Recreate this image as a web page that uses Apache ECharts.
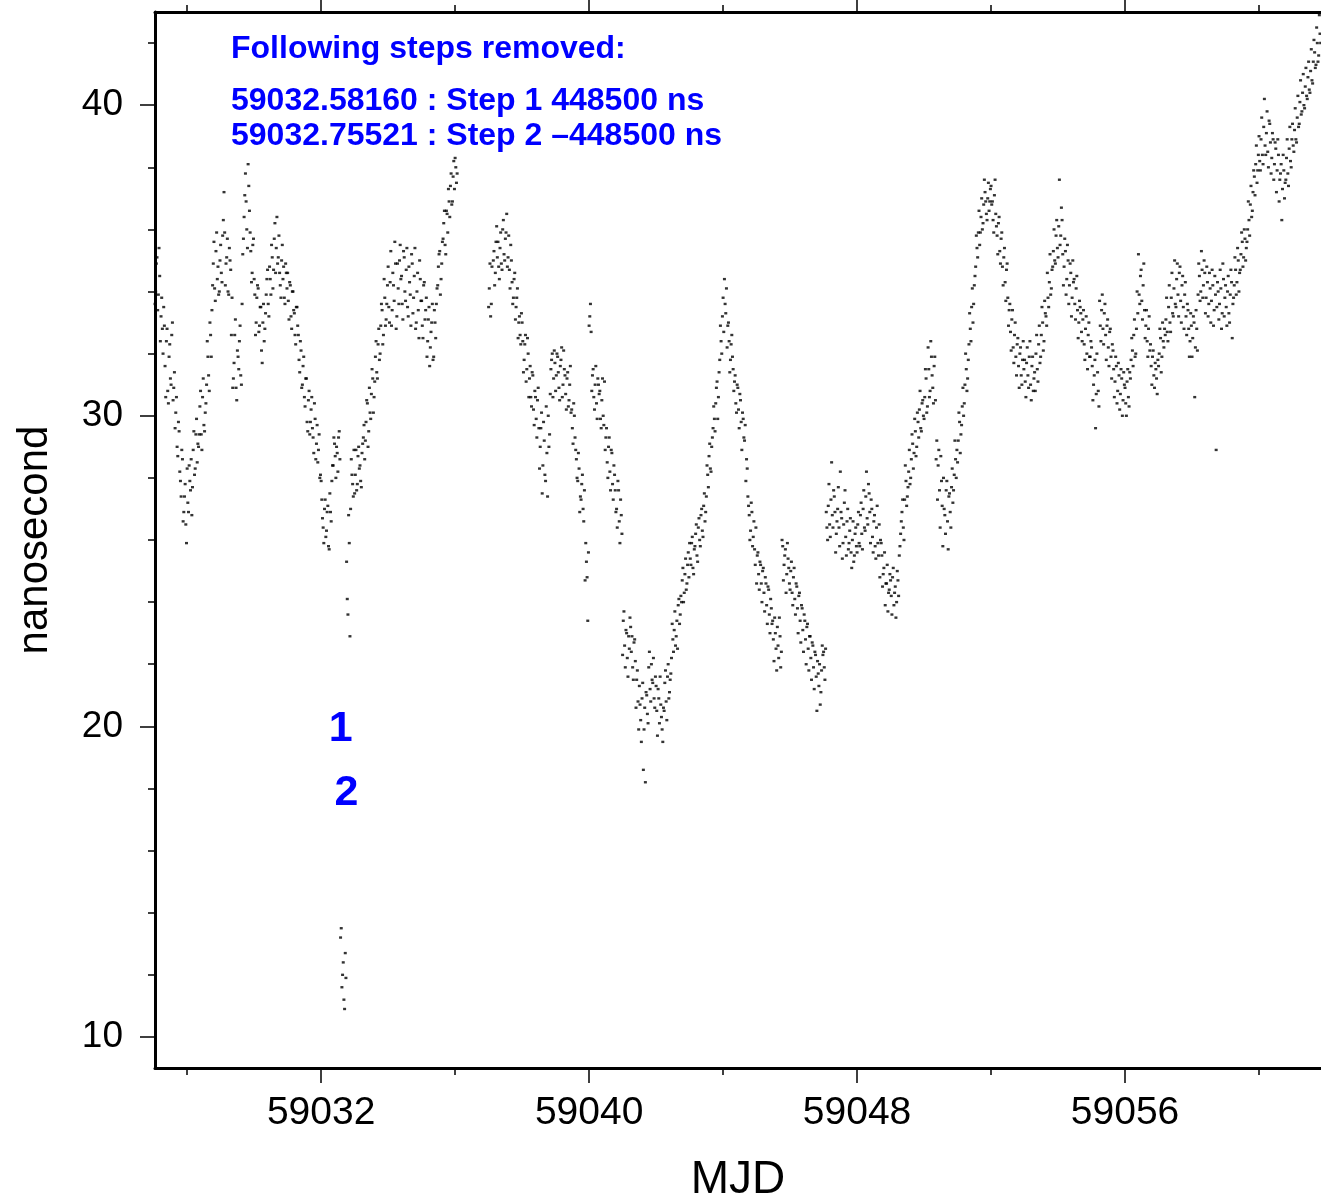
<!DOCTYPE html>
<html><head><meta charset="utf-8">
<script src="https://cdn.jsdelivr.net/npm/echarts@6/dist/echarts.min.js"></script>
<style>html,body{margin:0;padding:0;background:#fff}#c{width:1321px;height:1199px}</style>
</head><body><div id="c"></div>
<script>
// ---- axis ticks ----
const xMajorTicks = [59032, 59040, 59048, 59056];
const xMinorTicks = [59028, 59036, 59044, 59052, 59060];
const yMajorTicks = [10, 20, 30, 40];
const yMinorTicks = [12, 14, 16, 18, 22, 24, 26, 28, 32, 34, 36, 38, 42];

// ---- sampling within each day (MJD fraction), two interleaved sets ----
const offsetsA = [0.02,0.06,0.10,0.14,0.18,0.22,0.26,0.30,0.34,0.38,0.42,0.46,0.50,0.54,0.58,0.62,0.66,0.70,0.74,0.78,0.82,0.86,0.90,0.94,0.98];
const offsetsB = [0.00,0.04,0.08,0.12,0.16,0.20,0.24,0.28,0.32,0.36,0.40,0.44,0.48,0.52,0.56,0.60,0.64,0.68,0.72,0.76,0.80,0.84,0.88,0.92,0.96];

// ---- nanosecond values, set A, one row per MJD day ----
const a59027 = [34.6,34.0,35.1,33.9,34.5,33.2,32.8,33.5,31.6,32.4,30.8,31.9,31.2,32.6,30.5,31.4,30.1,29.0,29.8,28.2,27.4,28.6,26.9,27.8,25.9];
const a59028 = [27.2,28.4,27.6,26.8,28.9,28.1,29.4,28.5,29.0,30.3,29.4,30.6,29.7,30.1,31.0,31.9,30.8,32.6,33.4,34.9,34.1,35.3,34.4,33.9,35.0];
const a59029 = [34.6,35.8,37.2,34.2,35.1,34.0,35.4,34.7,33.8,31.2,32.6,30.9,32.1,31.5,32.9,31.0,35.2,36.4,37.8,36.0,38.1,36.6,35.3,34.6,35.7];
const a59030 = [33.9,33.0,34.2,32.7,33.5,32.1,33.0,32.4,33.3,34.4,33.6,34.8,33.9,35.1,34.7,36.2,35.4,34.9,35.8,34.2,35.0,34.4,33.8,34.9,34.1];
const a59031 = [33.7,34.3,33.2,34.0,33.4,32.6,33.5,32.9,31.8,32.4,30.9,31.6,30.6,31.2,29.8,30.5,29.4,30.2,29.6,28.8,29.9,29.1,28.5,29.4,28.1];
const a59032 = [27.3,26.4,27.0,26.1,26.9,25.8,27.5,26.6,28.4,29.3,28.7,29.0,28.2,29.5,13.2,11.6,12.4,10.9,11.9,24.1,26.8,22.9,28.6,27.8,28.9];
const a59033 = [28.1,27.6,28.7,28.3,27.9,28.8,29.3,28.6,29.8,30.4,29.5,30.1,30.7,31.2,30.6,31.9,31.4,32.3,31.8,32.9,33.4,32.6,33.8,33.1,34.2];
const a59034 = [33.5,34.3,32.9,34.6,33.7,34.9,33.2,34.1,35.0,34.4,33.6,35.3,34.0,34.7,33.5,34.8,33.9,35.2,33.3,34.5,32.8,34.0,33.4,35.0,33.7];
const a59035 = [32.9,34.2,33.1,33.8,32.4,33.5,32.2,33.0,31.8,33.4,32.5,34.1,34.8,35.3,34.4,35.6,36.2,35.5,36.6,35.9,36.9,37.4,36.8,37.7,37.3];
const a59036 = [38.0,37.8,null,null,null,null,null,null,null,null,null,null,null,null,null,null,null,null,null,null,null,null,null,null,null];
const a59037 = [34.1,33.2,34.8,35.0,34.2,35.6,35.1,34.8,35.4,34.9,36.0,35.2,35.7,36.5,35.1,34.7,35.5,34.3,33.8,34.6,33.5,34.1,33.0,32.6,33.3];
const a59038 = [32.4,31.8,32.6,31.5,32.0,31.2,30.6,31.4,30.2,30.8,29.9,30.5,29.6,29.0,30.1,28.4,29.2,27.9,28.8,30.0,29.4,31.5,32.0,31.2,31.7];
const a59039 = [31.3,31.9,30.9,31.6,32.2,31.0,31.5,30.7,31.2,30.3,31.0,30.1,29.6,30.4,29.3,28.6,27.9,28.3,27.4,27.8,27.0,27.6,25.9,24.8,25.6];
const a59040 = [33.2,32.7,31.3,30.6,31.0,30.4,31.2,30.7,29.9,30.5,30.0,31.1,29.3,28.5,29.0,28.2,28.9,27.8,28.4,27.6,27.0,27.9,26.6,27.3,26.2];
const a59041 = [23.4,22.6,23.1,22.2,22.9,23.5,22.4,21.9,22.7,22.1,21.5,20.8,21.3,20.2,20.9,18.6,20.6,21.1,20.4,21.9,21.2,22.0,21.4,20.9,21.6];
const a59042 = [20.5,21.2,20.1,20.7,19.9,20.6,21.4,20.8,21.6,20.9,21.5,22.2,22.8,23.1,22.6,23.4,23.9,23.3,24.2,24.7,24.0,24.9,24.4,25.2,24.8];
const a59043 = [25.4,25.9,25.1,25.7,26.2,25.5,26.4,26.0,26.8,26.3,27.1,26.6,27.4,28.1,28.7,28.3,29.0,29.6,29.9,30.4,31.1,30.6,31.8,32.4,33.2];
const a59044 = [32.7,33.6,34.1,32.9,32.4,31.8,32.6,31.5,31.1,30.4,31.0,30.2,30.7,29.8,30.1,29.3,29.7,28.6,27.4,26.8,26.3,26.9,26.1,25.7,26.4];
const a59045 = [25.5,24.9,25.3,24.6,25.0,24.3,24.8,23.9,24.5,23.6,24.1,23.3,22.8,23.5,22.5,23.2,22.2,22.9,22.4,25.8,25.2,25.7,24.9,25.4,24.6];
const a59046 = [25.0,24.3,24.8,24.1,24.6,23.8,24.2,23.4,23.9,23.1,23.6,22.8,23.2,22.5,22.9,22.2,22.7,21.9,22.4,21.6,22.1,21.3,20.7,21.8,22.3];
const a59047 = [21.9,22.5,26.4,27.1,26.5,27.3,26.8,27.6,26.9,26.2,27.0,26.4,28.2,26.7,25.9,27.2,26.1,26.6,25.7,26.3,25.6,26.0,25.3,26.2,25.8];
const a59048 = [26.5,25.9,26.8,26.2,27.0,26.4,27.4,26.7,27.8,26.9,27.3,26.1,26.6,25.8,26.4,25.9,26.5,26.0,25.5,24.9,25.6,24.6,25.2,24.3,24.9];
const a59049 = [24.2,24.8,23.9,24.5,24.0,24.7,25.5,26.2,26.9,26.4,27.3,27.9,27.4,28.2,27.8,28.6,29.1,28.8,29.5,29.0,29.8,30.2,29.6,30.4,30.0];
const a59050 = [30.6,31.2,30.3,31.5,30.8,31.9,30.9,31.6,30.5,29.2,28.4,27.6,28.7,27.1,28.0,26.8,27.6,26.6,27.4,26.9,27.7,27.2,28.1,28.6,28.9];
const a59051 = [29.2,29.8,29.4,30.3,30.0,31.0,31.5,31.2,32.3,32.8,33.5,33.0,34.2,34.8,35.4,35.9,35.5,36.4,36.0,36.8,37.2,36.5,37.0,36.6,37.3];
const a59052 = [36.8,36.3,37.1,36.5,35.8,36.2,35.3,35.7,34.8,35.1,34.3,34.7,33.8,33.4,32.7,33.1,32.2,32.6,31.9,32.3,31.6,32.0,31.3,31.8,31.5];
const a59053 = [31.1,31.7,31.3,31.9,31.0,31.6,30.8,31.4,32.0,31.5,32.3,31.7,32.6,33.0,32.4,33.3,32.9,33.8,34.3,33.9,34.7,35.3,35.0,35.8,35.4];
const a59054 = [36.1,35.5,36.7,35.2,34.8,35.3,34.4,35.0,34.2,34.6,33.8,34.3,33.6,34.1,33.4,33.0,33.5,32.7,33.1,32.3,32.8,32.0,32.6,31.9,32.4];
const a59055 = [31.6,31.0,31.8,30.7,31.4,30.3,32.9,33.4,32.8,33.3,32.6,32.9,32.2,32.7,31.9,32.3,31.5,31.1,31.6,30.8,31.3,30.7,31.2,30.5,31.0];
const a59056 = [30.4,31.1,30.6,31.4,31.8,32.1,32.6,31.9,32.8,33.3,33.9,34.5,33.7,34.2,33.4,32.9,32.4,32.8,32.1,31.6,31.9,31.3,31.7,31.2,31.8];
const a59057 = [32.0,32.5,31.9,32.4,32.8,33.1,32.7,33.5,33.0,33.8,33.3,34.1,33.6,34.4,33.9,34.6,33.7,34.2,33.5,33.9,33.2,33.6,32.8,32.4,32.9];
const a59058 = [32.5,33.0,32.2,32.8,33.9,34.5,34.0,34.7,34.2,34.6,33.8,34.3,33.6,34.1,33.7,34.2,33.4,33.9,33.5,34.0,33.6,34.1,33.3,34.4,33.8];
const a59059 = [33.5,34.0,33.3,33.9,34.3,33.6,34.2,34.7,34.3,35.0,34.6,35.2,35.6,35.1,35.7,35.4,36.0,36.3,36.8,36.4,37.2,37.7,38.1,37.5,38.4];
const a59060 = [38.2,38.9,38.4,39.3,38.7,39.1,38.5,39.5,38.8,38.3,38.9,38.1,38.6,37.9,38.4,37.6,38.1,37.3,37.9,37.5,38.3,37.8,38.6,38.2,38.9];
const a59061 = [38.7,39.2,38.9,39.6,39.3,40.1,39.7,40.4,40.0,40.6,40.3,40.9,40.5,41.1,40.8,41.4,41.7,41.3,42.0,41.6,42.3,42.6,42.2,42.8,42.5];

// ---- set B (interleaved samples), one row per MJD day ----
const b59027 = [35.2,33.6,34.9,33.4,35.4,32.4,33.8,32.0,32.9,30.6,32.8,30.4,32.3,31.0,33.0,30.9,29.6,30.6,28.7,29.5,27.9,28.9,26.6,27.4,26.5];
const b59028 = [28.3,26.9,27.9,28.6,27.7,29.5,28.3,29.9,29.1,29.4,30.8,28.9,31.2,29.5,30.4,32.4,31.3,33.0,31.9,34.2,35.6,33.7,35.9,34.8,34.0];
const b59029 = [35.5,34.3,36.3,35.9,34.9,35.7,33.9,35.0,32.6,30.9,31.7,33.1,30.5,31.9,32.4,31.3,33.6,35.7,37.1,36.9,35.4,37.4,35.9,34.3,35.5];
const b59030 = [34.4,32.6,33.8,34.1,32.9,33.5,31.7,33.6,32.8,33.9,34.7,33.2,34.4,35.5,34.1,35.7,34.6,36.4,35.1,34.6,33.8,35.5,34.8,33.6,34.6];
const b59031 = [34.6,33.1,34.2,32.8,34.0,33.3,32.3,33.5,32.6,31.4,32.1,31.0,31.9,30.3,31.2,29.5,30.8,29.8,30.6,29.3,30.4,28.6,29.7,28.9,28.0];
const b59032 = [27.9,26.7,25.9,27.3,26.3,27.1,25.7,26.9,27.9,28.4,29.1,28.0,28.8,29.3,28.6,13.5,12.0,11.2,12.7,25.3,23.6,25.9,27.0,28.1,27.4];
const b59033 = [27.5,28.9,27.8,29.0,28.4,27.7,29.1,29.7,29.2,30.5,29.0,30.9,29.9,31.5,30.1,31.1,32.4,31.2,32.8,32.0,33.6,32.3,34.4,32.9,33.6];
const b59034 = [34.8,33.0,35.3,33.4,34.2,35.6,32.8,34.9,33.6,35.5,34.5,33.1,35.1,33.7,35.4,33.2,34.3,32.9,34.9,33.8,35.4,33.0,34.6,32.5,34.4];
const b59035 = [33.7,32.5,34.3,33.4,31.9,33.1,31.6,32.7,33.6,31.9,33.0,33.6,34.2,35.2,33.9,34.9,35.7,36.6,35.2,36.5,37.3,36.4,37.8,36.9,38.2];
const b59036 = [38.3,37.5,null,null,null,null,null,null,null,null,null,null,null,null,null,null,null,null,null,null,null,null,null,null,null];
const b59037 = [33.5,34.9,33.6,null,35.3,34.6,36.1,35.6,34.4,35.9,34.7,36.3,35.0,35.9,34.8,35.8,34.1,35.0,33.6,34.4,33.1,33.8,32.5,33.2,32.3];
const b59038 = [33.0,31.4,32.3,31.1,32.5,30.6,31.6,30.3,31.3,29.7,30.6,29.3,30.9,28.3,29.6,27.5,29.8,28.1,30.3,27.4,29.0,30.7,31.8,30.6,32.1];
const b59039 = [30.8,32.0,31.4,30.5,31.8,30.6,32.1,31.3,30.2,31.4,30.5,31.6,30.2,29.1,30.0,28.9,28.0,28.8,26.9,27.3,28.1,26.6,24.7,25.3,23.4];
const b59040 = [32.9,33.6,30.8,31.5,30.2,31.6,29.9,31.0,30.8,29.6,31.2,29.7,28.9,29.6,28.0,29.3,27.6,28.8,27.3,28.1,26.9,26.4,27.6,25.9,26.8];
const b59041 = [22.3,23.7,21.9,23.0,21.6,22.5,23.2,22.9,21.5,22.8,20.6,21.8,19.9,20.7,19.5,21.4,19.9,18.2,21.0,20.1,22.4,20.8,21.5,22.2,20.6];
const b59042 = [21.3,19.7,20.9,21.6,20.3,19.5,20.5,21.8,20.2,22.0,21.1,21.7,23.3,22.4,23.7,22.9,22.5,24.1,23.6,24.0,25.1,24.3,25.4,24.6,25.6];
const b59043 = [25.9,25.2,26.1,24.9,25.8,26.5,25.3,26.7,25.8,27.0,26.1,27.5,26.9,28.4,27.7,29.1,28.2,29.3,30.3,29.5,30.9,29.9,31.4,32.9,32.0];
const b59044 = [33.8,34.4,33.3,32.2,33.0,31.4,32.3,31.9,30.8,31.3,30.1,30.9,29.6,30.5,28.9,29.9,29.2,27.9,28.3,27.1,26.0,27.2,25.8,26.6,25.2];
const b59045 = [24.6,25.6,24.4,25.2,24.0,25.1,23.7,24.6,23.3,24.4,23.0,23.8,23.4,22.1,23.0,21.8,22.6,23.5,21.9,26.0,24.7,25.5,24.3,25.9,25.1];
const b59046 = [24.4,25.3,23.9,25.1,23.6,24.5,23.0,24.3,22.7,23.8,22.4,23.4,22.0,23.3,21.8,22.9,21.5,22.6,21.2,22.3,20.5,21.7,22.0,21.1,22.6];
const b59047 = [22.4,21.5,26.9,26.0,27.8,26.1,28.5,26.4,27.4,25.6,26.6,27.7,25.8,26.9,25.4,26.5,27.6,25.5,27.0,25.9,26.7,25.1,26.6,25.5,26.4];
const b59048 = [25.6,26.9,25.8,27.2,25.7,27.6,26.3,28.2,26.5,27.5,25.9,27.0,25.6,26.8,25.4,27.1,25.5,24.8,25.9,24.5,25.1,23.9,24.6,23.7,24.4];
const b59049 = [24.7,23.6,25.1,24.3,23.5,25.0,24.2,25.8,26.6,27.3,26.0,28.4,27.1,27.7,28.9,28.0,29.4,28.3,29.9,28.7,30.1,29.3,30.8,29.5,30.5];
const b59050 = [29.9,31.5,30.1,32.2,30.6,32.4,31.3,30.4,31.9,28.6,27.3,28.9,26.4,27.9,25.8,27.0,26.2,27.9,25.7,27.5,26.4,28.3,27.6,29.2,28.0];
const b59051 = [28.5,30.1,28.8,29.7,30.9,30.4,32.0,30.8,31.8,33.3,32.4,34.1,33.6,34.5,35.8,35.1,36.6,35.9,37.0,36.2,37.6,36.9,36.3,37.5,36.9];
const b59052 = [37.4,36.9,35.9,37.6,36.1,35.2,36.4,34.9,35.9,34.2,35.4,33.7,34.9,32.9,33.6,32.1,33.4,31.7,33.0,31.3,32.5,30.9,32.2,31.0,32.4];
const b59053 = [31.8,30.6,32.2,30.9,32.4,30.5,31.9,31.2,30.8,32.6,31.1,32.9,31.9,33.5,32.1,33.7,33.2,34.6,33.5,35.2,34.1,34.8,36.0,34.9,36.3];
const b59054 = [35.1,37.6,35.8,36.3,34.2,35.7,33.9,35.5,33.6,34.9,33.2,35.0,34.4,33.1,34.5,32.5,33.7,33.3,32.4,33.4,31.8,33.2,31.5,33.0,31.9];
const b59055 = [32.2,30.5,31.3,29.6,32.0,30.8,33.7,32.4,33.9,32.3,33.6,31.8,33.1,31.6,32.8,31.2,32.1,30.6,31.9,30.4,31.7,30.2,31.5,30.0,31.4];
const b59056 = [30.9,30.0,31.5,30.3,31.2,32.5,31.6,33.1,32.0,34.0,35.2,33.6,34.7,33.1,34.9,32.5,33.4,31.9,33.2,32.3,31.0,32.1,30.9,31.5,30.7];
const b59057 = [31.6,32.8,31.4,33.0,32.2,32.6,33.8,32.4,34.2,32.7,34.6,33.2,35.0,33.5,34.9,33.2,34.8,33.0,34.5,32.8,34.3,32.6,33.4,31.9,33.3];
const b59058 = [31.9,33.2,30.6,33.4,32.1,34.9,33.7,35.3,33.8,35.0,33.3,34.8,33.2,34.6,33.0,34.7,32.9,34.5,28.9,34.3,33.1,34.7,32.8,34.9,33.2];
const b59059 = [34.2,32.9,34.5,33.0,34.7,32.5,33.8,35.1,33.9,35.4,34.0,34.7,35.9,34.8,36.0,35.0,35.6,36.9,35.8,37.4,36.6,37.9,37.1,38.7,37.9];
const b59060 = [39.0,37.9,39.6,38.1,40.2,38.4,39.8,38.0,39.4,37.8,39.1,37.6,38.8,37.2,38.9,36.9,37.8,36.3,38.4,37.0,37.6,38.9,37.4,39.3,38.0];
const b59061 = [39.4,38.5,39.9,38.8,40.3,39.4,40.8,39.8,41.0,39.9,41.2,40.2,41.4,40.4,41.8,40.7,42.1,41.2,42.5,41.4,42.9,42.0,42.6,42.3,43.0];

const days = [59027,59028,59029,59030,59031,59032,59033,59034,59035,59036,59037,59038,59039,59040,59041,59042,59043,59044,59045,59046,59047,59048,59049,59050,59051,59052,59053,59054,59055,59056,59057,59058,59059,59060,59061];
const rowsA = [a59027,a59028,a59029,a59030,a59031,a59032,a59033,a59034,a59035,a59036,a59037,a59038,a59039,a59040,a59041,a59042,a59043,a59044,a59045,a59046,a59047,a59048,a59049,a59050,a59051,a59052,a59053,a59054,a59055,a59056,a59057,a59058,a59059,a59060,a59061];
const rowsB = [b59027,b59028,b59029,b59030,b59031,b59032,b59033,b59034,b59035,b59036,b59037,b59038,b59039,b59040,b59041,b59042,b59043,b59044,b59045,b59046,b59047,b59048,b59049,b59050,b59051,b59052,b59053,b59054,b59055,b59056,b59057,b59058,b59059,b59060,b59061];

// ---- step annotations ----
const stepMJD = [59032.58160, 59032.75521];
const stepNames = ['1', '2'];
const stepLabelNs = [20.0, 17.95];
const noteLines = ['Following steps removed:', '59032.58160 : Step 1 448500 ns', '59032.75521 : Step 2 \u2013448500 ns'];

const xMin = 59027.04, xMax = 59061.85, yMin = 9, yMax = 43;

const points = [];
function addRows(rows, offs) {
  days.forEach((d, k) => {
    rows[k].forEach((v, i) => {
      if (v !== null) points.push([+(d + offs[i]).toFixed(2), v]);
    });
  });
}
addRows(rowsA, offsetsA);
addRows(rowsB, offsetsB);

const SANS = "'Liberation Sans',Arial,sans-serif";

const chart = echarts.init(document.getElementById('c'), null, {renderer: 'canvas'});
const tickStyle = {color: '#000', width: 1.5};
const hiddenAxis = {axisLabel: {show: false}, splitLine: {show: false}};
const noteGraphics = noteLines.map((t, i) => ({
  type: 'text', x: 231, y: [49, 101.5, 136.5][i],
  style: {text: t, fill: '#0000ff', font: "bold 32px 'Liberation Sans', Arial, sans-serif", verticalAlign: 'middle'}
}));
chart.setOption({
  animation: false,
  backgroundColor: '#fff',
  grid: {left: 155, right: 0, top: 12, bottom: 131, containLabel: false, outerBoundsMode: 'none'},
  xAxis: [
    {type: 'value', min: xMin, max: xMax, position: 'bottom',
     axisLine: {show: true, onZero: false, lineStyle: {color: '#000', width: 3}},
     axisTick: {show: true, length: 15, customValues: xMajorTicks, lineStyle: tickStyle},
     axisLabel: {customValues: xMajorTicks, formatter: v => String(v), fontFamily: SANS, fontSize: 39, color: '#000', margin: 26},
     splitLine: {show: false},
     name: 'MJD', nameLocation: 'middle', nameGap: 89,
     nameTextStyle: {fontFamily: SANS, fontSize: 46, color: '#000'}},
    Object.assign({type: 'value', min: xMin, max: xMax, position: 'bottom',
     axisLine: {show: false, onZero: false},
     axisTick: {show: true, length: 7, customValues: xMinorTicks, lineStyle: tickStyle}}, hiddenAxis),
    Object.assign({type: 'value', min: xMin, max: xMax, position: 'top',
     axisLine: {show: true, onZero: false, lineStyle: {color: '#000', width: 3}},
     axisTick: {show: true, length: 14, customValues: xMajorTicks, lineStyle: tickStyle}}, hiddenAxis),
    Object.assign({type: 'value', min: xMin, max: xMax, position: 'top',
     axisLine: {show: false, onZero: false},
     axisTick: {show: true, length: 7, customValues: xMinorTicks, lineStyle: tickStyle}}, hiddenAxis)
  ],
  yAxis: [
    {type: 'value', min: yMin, max: yMax, position: 'left',
     axisLine: {show: true, onZero: false, lineStyle: {color: '#000', width: 3}},
     axisTick: {show: true, length: 15, customValues: yMajorTicks, lineStyle: tickStyle},
     axisLabel: {customValues: yMajorTicks, fontFamily: SANS, fontSize: 37, color: '#000', margin: 32},
     splitLine: {show: false},
     name: 'nanosecond', nameLocation: 'middle', nameGap: 99,
     nameTextStyle: {fontFamily: SANS, fontSize: 42, color: '#000'}},
    Object.assign({type: 'value', min: yMin, max: yMax, position: 'left',
     axisLine: {show: false, onZero: false},
     axisTick: {show: true, length: 7, customValues: yMinorTicks, lineStyle: tickStyle}}, hiddenAxis)
  ],
  series: [
    {type: 'scatter', xAxisIndex: 0, yAxisIndex: 0, data: points,
     symbol: 'rect', symbolSize: [3, 2.4], itemStyle: {color: '#000'}, silent: true}
  ],
  graphic: noteGraphics
});

// step number labels placed at their MJD through the chart's own scales
const stepGraphics = stepMJD.map((m, i) => {
  const p = chart.convertToPixel({xAxisIndex: 0, yAxisIndex: 0}, [m, stepLabelNs[i]]);
  return {type: 'text', x: p[0], y: p[1] + 3,
          style: {text: stepNames[i], fill: '#0000ff', font: "bold 43px 'Liberation Sans', Arial, sans-serif",
                  align: 'center', verticalAlign: 'middle'}};
});
chart.setOption({graphic: noteGraphics.concat(stepGraphics)});
</script>
</body></html>
